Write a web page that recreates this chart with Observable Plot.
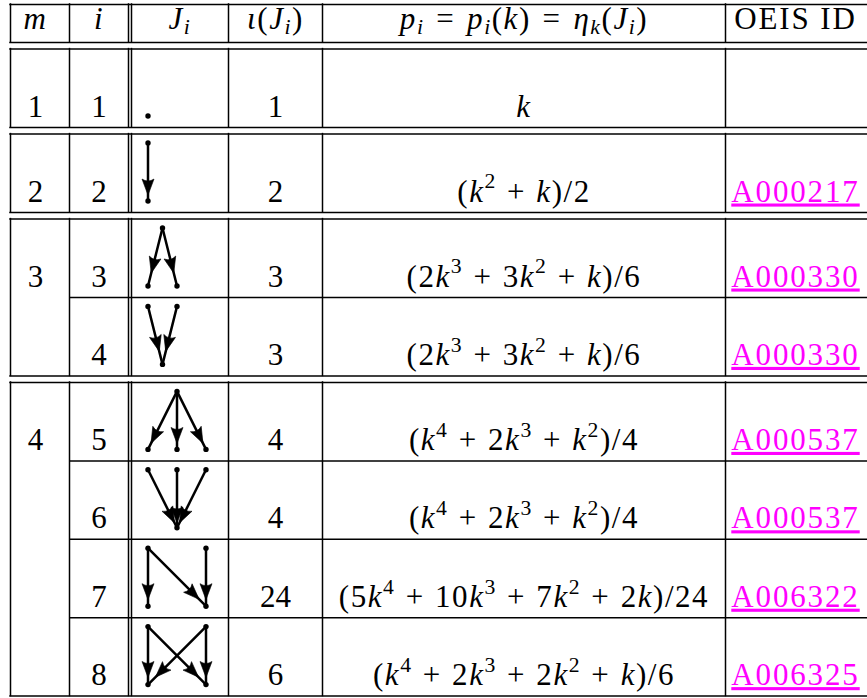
<!DOCTYPE html>
<html><head><meta charset="utf-8">
<script src="https://cdn.jsdelivr.net/npm/d3@7"></script>
<script src="https://cdn.jsdelivr.net/npm/@observablehq/plot@0.6"></script>
<style>html,body{margin:0;padding:0;background:#fff;} svg{display:block} svg text{font-family:"Liberation Serif","Times New Roman",serif;}</style>
</head><body><div id="chart"></div>
<script>
// ---------------- data ----------------
const headers = ["m", "i", "J_i", "ι(J_i)", "p_i = p_i(k) = η_k(J_i)", "OEIS ID"];
const mValues = [1, 2, 3, 3, 4, 4, 4, 4];
const iValues = [1, 2, 3, 4, 5, 6, 7, 8];
const iotaValues = [1, 2, 3, 3, 4, 4, 24, 6];
const polynomials = [
  "k",
  "(k^2 + k)/2",
  "(2k^3 + 3k^2 + k)/6",
  "(2k^3 + 3k^2 + k)/6",
  "(k^4 + 2k^3 + k^2)/4",
  "(k^4 + 2k^3 + k^2)/4",
  "(5k^4 + 10k^3 + 7k^2 + 2k)/24",
  "(k^4 + 2k^3 + 2k^2 + k)/6"
];
const oeisIds = ["", "A000217", "A000330", "A000330", "A000537", "A000537", "A006322", "A006325"];
// Hasse diagrams of J_i: nodes as [column, level] (level 0 = top), edges as [from, to]
const posetNodes = [
  [[0, 1]],
  [[0, 0], [0, 1]],
  [[0.5, 0], [0, 1], [1, 1]],
  [[0, 0], [1, 0], [0.5, 1]],
  [[1, 0], [0, 1], [1, 1], [2, 1]],
  [[0, 0], [1, 0], [2, 0], [1, 1]],
  [[0, 0], [0, 1], [2, 0], [2, 1]],
  [[0, 0], [0, 1], [2, 0], [2, 1]]
];
const posetEdges = [
  [],
  [[0, 1]],
  [[0, 1], [0, 2]],
  [[0, 2], [1, 2]],
  [[0, 1], [0, 2], [0, 3]],
  [[0, 3], [1, 3], [2, 3]],
  [[0, 1], [0, 3], [2, 3]],
  [[0, 1], [0, 3], [2, 1], [2, 3]]
];

// ---------------- layout & style ----------------
const W = 867, H = 698;
const FS = 31;
const serif = "Liberation Serif, Times New Roman, serif";
const xLeft = 10, xRight = 867;
const vLines = [10, 69, 128, 131, 228, 322, 725];
const innerLineStart = 69;
const colX = [35, 98.5, 179.5, 275, 523.5, 795];
const headerTop = 4, headerBottom = 42, bandGap = 6.6, rowH = 78.4;
const headerBaseOff = 13.5, rowBaseOff = 11;
const nodeX0 = 147.5, nodeDX = 29, levelDY = 58, nodeLift = 11.5;
const arrowAt = [0, 0.88, 0.76, 0.76, 0.88, 0.9, 0.87, 0.86];
const lw = 1.5;

// rows and bands
const rows = [];
const bands = [{top: headerTop, bottom: headerBottom}];
let yCur = headerBottom;
mValues.forEach((m, k) => {
  const newBand = k === 0 || m !== mValues[k - 1];
  const top = newBand ? yCur + bandGap : yCur;
  const bottom = top + rowH;
  if (newBand) bands.push({top, bottom}); else bands[bands.length - 1].bottom = bottom;
  rows.push({k, top, bottom, newBand});
  yCur = bottom;
});

const hRules = [];
bands.forEach(b => {
  hRules.push({y: b.top, x1: xLeft - lw / 2, x2: xRight});
  hRules.push({y: b.bottom, x1: xLeft - lw / 2, x2: xRight});
});
rows.forEach(r => { if (!r.newBand) hRules.push({y: r.top, x1: innerLineStart, x2: xRight}); });
const vRules = [];
bands.forEach(b => vLines.forEach(x => vRules.push({x, y1: b.top - lw / 2, y2: b.bottom + lw / 2})));

// texts
const headerY = headerBottom - headerBaseOff;
const headerMath = headers.slice(0, 5).map((t, c) => ({x: colX[c], y: headerY, t}));
const headerPlain = [{x: colX[5], y: headerY, t: headers[5]}];
const plainTexts = [];
const mathTexts = [];
const linkTexts = [];
rows.forEach(r => {
  const yb = r.bottom - rowBaseOff;
  if (r.newBand) plainTexts.push({x: colX[0], y: yb, t: String(mValues[r.k])});
  plainTexts.push({x: colX[1], y: yb, t: String(iValues[r.k])});
  plainTexts.push({x: colX[3], y: yb, t: String(iotaValues[r.k])});
  mathTexts.push({x: colX[4], y: yb, t: polynomials[r.k]});
  if (oeisIds[r.k]) linkTexts.push({x: colX[5], y: yb, t: oeisIds[r.k]});
});
const mathStrings = new Set([...headers.slice(0, 5), ...polynomials]);
const wideStrings = new Set([headers[5], ...oeisIds.filter(d => d)]);
const linkStrings = new Set(oeisIds.filter(d => d));

// graphs
const nodes = [], edges = [], heads = [];
rows.forEach(r => {
  const base = r.bottom - nodeLift;
  const pos = posetNodes[r.k].map(([c, l]) => ({x: nodeX0 + c * nodeDX, y: base - (1 - l) * levelDY}));
  pos.forEach(p => nodes.push(p));
  posetEdges[r.k].forEach(([a, b]) => {
    const p = pos[a], q = pos[b];
    edges.push({x1: p.x, y1: p.y, x2: q.x, y2: q.y});
    const t = arrowAt[r.k];
    heads.push({x: p.x + t * (q.x - p.x), y: p.y + t * (q.y - p.y),
                angle: Math.atan2(q.y - p.y, q.x - p.x) * 180 / Math.PI});
  });
});

const arrowHead = {
  draw(ctx) {
    ctx.moveTo(1, 0);
    ctx.lineTo(-15, -6);
    ctx.quadraticCurveTo(-11, 0, -15, 6);
    ctx.closePath();
  }
};

const textOpts = {x: "x", y: "y", text: "t", lineAnchor: "bottom", textAnchor: "middle", fontFamily: serif, fontSize: FS};
const svg = Plot.plot({
  width: W, height: H, margin: 0,
  x: {domain: [0, W], range: [0, W], axis: null},
  y: {domain: [0, H], range: [0, H], axis: null},
  style: {background: "white"},
  marks: [
    Plot.ruleY(hRules, {y: "y", x1: "x1", x2: "x2", stroke: "black", strokeWidth: lw}),
    Plot.ruleX(vRules, {x: "x", y1: "y1", y2: "y2", stroke: "black", strokeWidth: lw}),
    Plot.link(edges, {x1: "x1", y1: "y1", x2: "x2", y2: "y2", stroke: "black", strokeWidth: 2.5, strokeLinecap: "round"}),
    Plot.dot(heads, {x: "x", y: "y", rotate: "angle", symbol: arrowHead, fill: "black", stroke: "black", strokeWidth: 0.6, strokeLinejoin: "miter"}),
    Plot.dot(nodes, {x: "x", y: "y", r: 2.7, fill: "black", stroke: "none"}),
    Plot.text(headerMath, {...textOpts, fill: "black"}),
    Plot.text(mathTexts, {...textOpts, fill: "black"}),
    Plot.text(headerPlain, {...textOpts, fill: "black"}),
    Plot.text(plainTexts, {...textOpts, fill: "black"}),
    Plot.text(linkTexts, {...textOpts, fill: "#ff00ff"})
  ]
});

// typeset simple math markup inside text elements (italic letters, super/subscripts, operator spacing)
function typeset(textEl) {
  const src = textEl.textContent;
  const sel = d3.select(textEl);
  sel.text(null);
  let shift = 0, pendingDx = 0;
  const isLetter = ch => /[A-Za-z\u03b1-\u03c9]/.test(ch);
  const put = (str, {italic = false, scale = 1, rise = 0, dxBefore = 0} = {}) => {
    const t = sel.append("tspan").text(str);
    t.attr("font-style", italic ? "italic" : "normal");
    if (scale !== 1) t.attr("font-size", (FS * scale).toFixed(2) + "px");
    const target = -rise * FS;
    const dy = target - shift;
    if (Math.abs(dy) > 0.01) t.attr("dy", dy.toFixed(2));
    shift = target;
    const dx = (dxBefore + pendingDx) * FS;
    if (dx) t.attr("dx", dx.toFixed(2));
    pendingDx = 0;
  };
  for (let j = 0; j < src.length; j++) {
    const c = src[j];
    if (c === " ") continue;
    if (c === "^" || c === "_") {
      const ch = src[++j];
      put(ch, {italic: isLetter(ch), scale: 0.7, rise: c === "^" ? 0.42 : -0.16});
      continue;
    }
    if (c === "+") { put(c, {dxBefore: 0.33}); pendingDx = 0.33; continue; }
    if (c === "=") { put(c, {dxBefore: 0.38}); pendingDx = 0.38; continue; }
    put(c, {italic: isLetter(c)});
  }
}
d3.select(svg).selectAll("text").each(function () {
  this.style.fontFamily = '"Liberation Serif", "Times New Roman", serif';
  const s = this.textContent;
  if (mathStrings.has(s)) {
    typeset(this);
    this.setAttribute("letter-spacing", "0.05em");
  } else if (wideStrings.has(s)) {
    this.setAttribute("letter-spacing", "0.06em");
    if (linkStrings.has(s)) {
      this.style.textDecoration = "underline";
      this.style.textDecorationThickness = "1.5px";
    }
  }
});

document.getElementById("chart").appendChild(svg);
</script>
</body></html>
